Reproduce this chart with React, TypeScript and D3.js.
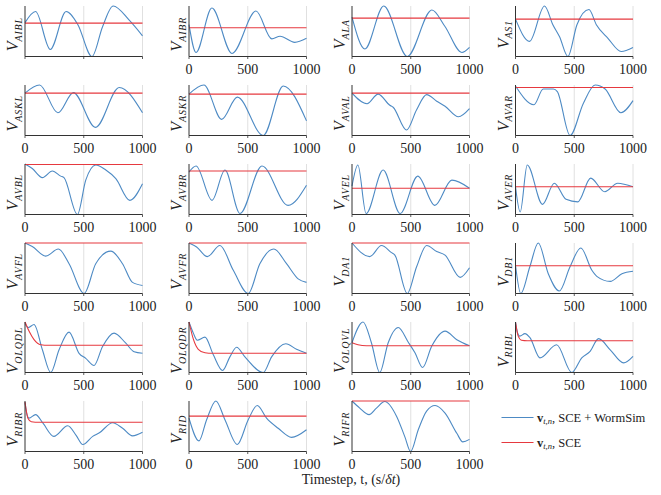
import React from "react";
import * as d3 from "d3";

type Pt = [number, number];

// Membrane traces, normalised to each panel's own range (0 = bottom, 1 = top).
// "sim" = SCE + WormSim, "sce" = SCE alone.
const neurons = [
  "AIBL", "AIBR", "ALA", "AS1",
  "ASKL", "ASKR", "AVAL", "AVAR",
  "AVBL", "AVBR", "AVEL", "AVER",
  "AVFL", "AVFR", "DA1", "DB1",
  "OLQDL", "OLQDR", "OLQVL", "RIBL",
  "RIBR", "RID", "RIFR",
];

const simAIBL: Pt[] = [[0, 0.67], [90, 0.89], [215, 0.14], [350, 0.89], [450, 0.63], [570, 0], [660, 0.59], [750, 1], [887, 0.72], [1000, 0.41]];
const simAIBR: Pt[] = [[0, 0.63], [60, 0.08], [195, 0.96], [366, 0.06], [570, 0.9], [705, 0.35], [775, 0.4], [900, 0.28], [1000, 0.36]];
const simALA: Pt[] = [[0, 0.78], [110, 0.15], [270, 1], [470, 0], [680, 0.92], [790, 0.6], [935, 0.08], [1000, 0.18]];
const simAS1: Pt[] = [[0, 0.74], [120, 0.3], [247, 1], [318, 0.63], [375, 0.39], [446, 0], [523, 0.63], [625, 0.93], [688, 0.63], [787, 0.36], [900, 0.1], [1000, 0.18]];
const simASKL: Pt[] = [[0, 0.84], [124, 1], [280, 0.45], [412, 0.85], [600, 0.16], [802, 0.95], [1000, 0.45]];
const simASKR: Pt[] = [[0, 0.82], [127, 1], [278, 0.32], [411, 0.76], [632, 0], [802, 0.98], [1000, 0.29]];
const simAVAL: Pt[] = [[0, 0.84], [128, 0.63], [222, 0.82], [322, 0.6], [350, 0.56], [464, 0.11], [550, 0.51], [635, 0.81], [721, 0.68], [792, 0.58], [906, 0.37], [1000, 0.53]];
const simAVAR: Pt[] = [[0, 0.98], [157, 0.61], [236, 0.92], [322, 0.92], [356, 0.87], [464, 0], [578, 0.64], [678, 1], [763, 0.92], [897, 0.45], [1000, 0.69]];
const simAVBL: Pt[] = [[0, 1], [62, 0.91], [148, 0.73], [233, 0.86], [304, 0.76], [332, 0.73], [446, 0], [517, 0.68], [602, 0.98], [688, 0.88], [773, 0.71], [892, 0.28], [1000, 0.61]];
const simAVBR: Pt[] = [[0, 0.84], [60, 0.96], [196, 0.28], [306, 0.88], [434, 0.02], [621, 0.96], [843, 0.18], [1000, 0.58]];
const simAVEL: Pt[] = [[0, 0.56], [50, 0.98], [120, 0.02], [265, 0.88], [410, 0.02], [560, 0.76], [705, 0.18], [850, 0.68], [1000, 0.52]];
const simAVER: Pt[] = [[0, 0.55], [40, 0.05], [100, 0.98], [230, 0.2], [330, 0.62], [430, 0.3], [530, 0.25], [640, 0.72], [760, 0.45], [870, 0.62], [1000, 0.55]];
const simAVFL: Pt[] = [[0, 1], [62, 0.93], [176, 0.74], [284, 0.88], [375, 0.59], [503, 0], [602, 0.59], [730, 0.84], [830, 0.59], [915, 0.22], [1000, 0.16]];
const simAVFR: Pt[] = [[0, 1], [65, 0.92], [156, 0.73], [263, 0.95], [377, 0.46], [504, 0], [603, 0.59], [722, 0.88], [830, 0.59], [929, 0.29], [1000, 0.22]];
const simDA1: Pt[] = [[0, 1], [151, 0.73], [251, 0.95], [336, 0.81], [365, 0.76], [470, 0], [550, 0.53], [635, 0.95], [721, 0.83], [792, 0.76], [920, 0.32], [1000, 0.51]];
const simDB1: Pt[] = [[0, 0.56], [45, 0], [122, 0.53], [194, 1], [279, 0.39], [373, 0.05], [464, 0.53], [556, 0.9], [650, 0.46], [692, 0.34], [806, 0.24], [906, 0.39], [1000, 0.44]];
const simOLQDL: Pt[] = [[0, 0.97], [28, 0.89], [77, 0.95], [148, 0.45], [219, 0], [290, 0.45], [375, 0.8], [460, 0.38], [517, 0.28], [588, 0.14], [659, 0.51], [758, 0.78], [858, 0.58], [929, 0.41], [1000, 0.38]];
const simOLQDR: Pt[] = [[0, 1], [37, 0.78], [70, 0.64], [136, 0.7], [207, 0.35], [286, 0.04], [348, 0.31], [405, 0.5], [476, 0.31], [632, 0], [703, 0.31], [824, 0.57], [915, 0.46], [1000, 0.38]];
const simOLQVL: Pt[] = [[0, 0.59], [94, 1], [165, 0.59], [236, 0], [308, 0.59], [393, 0.89], [479, 0.6], [536, 0.39], [601, 0.1], [678, 0.52], [792, 0.82], [892, 0.65], [1000, 0.53]];
const simRIBL: Pt[] = [[0, 1], [17, 0.79], [37, 0.72], [80, 0.77], [123, 0.69], [208, 0.29], [350, 0.55], [479, 0], [564, 0.29], [635, 0.42], [707, 0.67], [806, 0.45], [920, 0.19], [1000, 0.32]];
const simRIBR: Pt[] = [[0, 0.97], [17, 0.73], [34, 0.66], [90, 0.73], [153, 0.56], [245, 0.3], [364, 0.51], [435, 0.32], [492, 0.14], [576, 0.3], [633, 0.37], [746, 0.57], [831, 0.46], [915, 0.31], [1000, 0.38]];
const simRID: Pt[] = [[0, 0.66], [85, 0.21], [150, 0.63], [229, 1], [306, 0.63], [411, 0.14], [504, 0.63], [581, 0.91], [660, 0.66], [759, 0.46], [873, 0.28], [1000, 0.43]];
const simRIFR: Pt[] = [[0, 1], [66, 0.86], [145, 0.73], [208, 0.86], [279, 0.99], [379, 0.7], [450, 0.29], [499, 0], [564, 0.43], [635, 0.8], [707, 0.91], [792, 0.76], [892, 0.36], [943, 0.19], [1000, 0.24]];

// SCE-only traces: mostly flat, a few relax from the initial value first
const sceAIBL: Pt[] = [[0, 0.66], [1000, 0.66]];
const sceAIBR: Pt[] = [[0, 0.57], [1000, 0.57]];
const sceALA: Pt[] = [[0, 0.76], [1000, 0.76]];
const sceAS1: Pt[] = [[0, 0.74], [1000, 0.74]];
const sceASKL: Pt[] = [[0, 0.84], [1000, 0.84]];
const sceASKR: Pt[] = [[0, 0.82], [1000, 0.82]];
const sceAVAL: Pt[] = [[0, 0.84], [1000, 0.84]];
const sceAVAR: Pt[] = [[0, 0.95], [1000, 0.95]];
const sceAVBL: Pt[] = [[0, 0.99], [1000, 0.99]];
const sceAVBR: Pt[] = [[0, 0.86], [1000, 0.86]];
const sceAVEL: Pt[] = [[0, 0.52], [1000, 0.52]];
const sceAVER: Pt[] = [[0, 0.55], [1000, 0.55]];
const sceAVFL: Pt[] = [[0, 1], [1000, 1]];
const sceAVFR: Pt[] = [[0, 1], [1000, 1]];
const sceDA1: Pt[] = [[0, 1], [1000, 1]];
const sceDB1: Pt[] = [[0, 0.55], [1000, 0.55]];
const sceOLQDL: Pt[] = [[0, 1], [34, 0.82], [77, 0.65], [134, 0.55], [200, 0.54], [1000, 0.54]];
const sceOLQDR: Pt[] = [[0, 1], [37, 0.66], [79, 0.46], [136, 0.39], [200, 0.38], [1000, 0.38]];
const sceOLQVL: Pt[] = [[0, 0.59], [51, 0.55], [123, 0.53], [1000, 0.53]];
const sceRIBL: Pt[] = [[0, 1], [23, 0.72], [51, 0.64], [100, 0.63], [1000, 0.63]];
const sceRIBR: Pt[] = [[0, 0.98], [25, 0.66], [54, 0.59], [120, 0.58], [1000, 0.58]];
const sceRID: Pt[] = [[0, 0.7], [1000, 0.7]];
const sceRIFR: Pt[] = [[0, 1], [1000, 1]];

const simTraces = [
  simAIBL, simAIBR, simALA, simAS1, simASKL, simASKR, simAVAL, simAVAR,
  simAVBL, simAVBR, simAVEL, simAVER, simAVFL, simAVFR, simDA1, simDB1,
  simOLQDL, simOLQDR, simOLQVL, simRIBL, simRIBR, simRID, simRIFR,
];
const sceTraces = [
  sceAIBL, sceAIBR, sceALA, sceAS1, sceASKL, sceASKR, sceAVAL, sceAVAR,
  sceAVBL, sceAVBR, sceAVEL, sceAVER, sceAVFL, sceAVFR, sceDA1, sceDB1,
  sceOLQDL, sceOLQDR, sceOLQVL, sceRIBL, sceRIBR, sceRID, sceRIFR,
];

const xTicks = [0, 500, 1000];

const W = 661;
const H = 495;
const colLeft = [25, 189, 352, 515.5];
const rowTop = [6, 85, 164, 243, 322, 401];
const pw = 117.5;
const ph = 50.5;

const BLUE = "#4d8ac4";
const RED = "#e6393f";
const FONT = "'Liberation Serif', 'DejaVu Serif', serif";

function Panel({ idx }: { idx: number }) {
  const col = idx % 4;
  const row = Math.floor(idx / 4);
  const left = colLeft[col];
  const top = rowTop[row];
  const bottom = top + ph;
  const x = d3.scaleLinear().domain([0, 1000]).range([left, left + pw]);
  const y = d3.scaleLinear().domain([0, 1]).range([bottom, top]);
  const line = d3
    .line<Pt>()
    .x((d) => x(d[0]))
    .y((d) => y(d[1]))
    .curve(d3.curveMonotoneX);
  const name = neurons[idx];
  const showTicks = idx !== 0;
  const cy = (top + bottom) / 2 + 3;

  return (
    <g>
      {xTicks.slice(1).map((t) => (
        <line key={t} x1={x(t)} x2={x(t)} y1={top} y2={bottom} stroke="#dddddd" strokeWidth={0.9} />
      ))}
      <path d={line(simTraces[idx]) ?? ""} fill="none" stroke={BLUE} strokeWidth={1.1} />
      <path d={line(sceTraces[idx]) ?? ""} fill="none" stroke={RED} strokeWidth={1.1} />
      <line x1={left} x2={left} y1={top} y2={bottom} stroke="#333" strokeWidth={1} />
      <line x1={left} x2={left + pw} y1={bottom} y2={bottom} stroke="#333" strokeWidth={1} />
      {xTicks.map((t) => (
        <line key={t} x1={x(t)} x2={x(t)} y1={bottom} y2={bottom + 2.5} stroke="#333" strokeWidth={0.8} />
      ))}
      {showTicks &&
        xTicks.map((t) => (
          <text key={t} x={x(t)} y={bottom + 17.5} textAnchor="middle" fontSize={14} fill="#222">
            {t}
          </text>
        ))}
      <text transform={`translate(${left - 7},${cy}) rotate(-90)`} x={0} y={0} textAnchor="middle" fill="#222">
        <tspan fontSize={16} fontStyle="italic">V</tspan>
        <tspan fontSize={10} fontStyle="italic" dy={3.5} letterSpacing={0.8}>{name}</tspan>
      </text>
    </g>
  );
}

export default function App() {
  return (
    <svg
      width={W}
      height={H}
      style={{ position: "absolute", left: 0, top: 0, background: "#fff", fontFamily: FONT }}
    >
      {neurons.map((_, i) => (
        <Panel key={i} idx={i} />
      ))}

      {/* legend */}
      <line x1={501.5} x2={533.5} y1={417.5} y2={417.5} stroke={BLUE} strokeWidth={1.2} />
      <text x={537} y={421.5} fontSize={12.5} fill="#222">
        <tspan fontWeight="bold">v</tspan>
        <tspan fontSize={8.5} fontStyle="italic" dy={2.5}>t,n</tspan>
        <tspan dy={-2.5}>, SCE + WormSim</tspan>
      </text>
      <line x1={501.5} x2={533.5} y1={442.5} y2={442.5} stroke={RED} strokeWidth={1.2} />
      <text x={537} y={446.5} fontSize={12.5} fill="#222">
        <tspan fontWeight="bold">v</tspan>
        <tspan fontSize={8.5} fontStyle="italic" dy={2.5}>t,n</tspan>
        <tspan dy={-2.5}>, SCE</tspan>
      </text>

      <text x={351} y={484} textAnchor="middle" fontSize={14} fill="#222">
        Timestep, t, (s/<tspan fontStyle="italic">δt</tspan>)
      </text>
    </svg>
  );
}
